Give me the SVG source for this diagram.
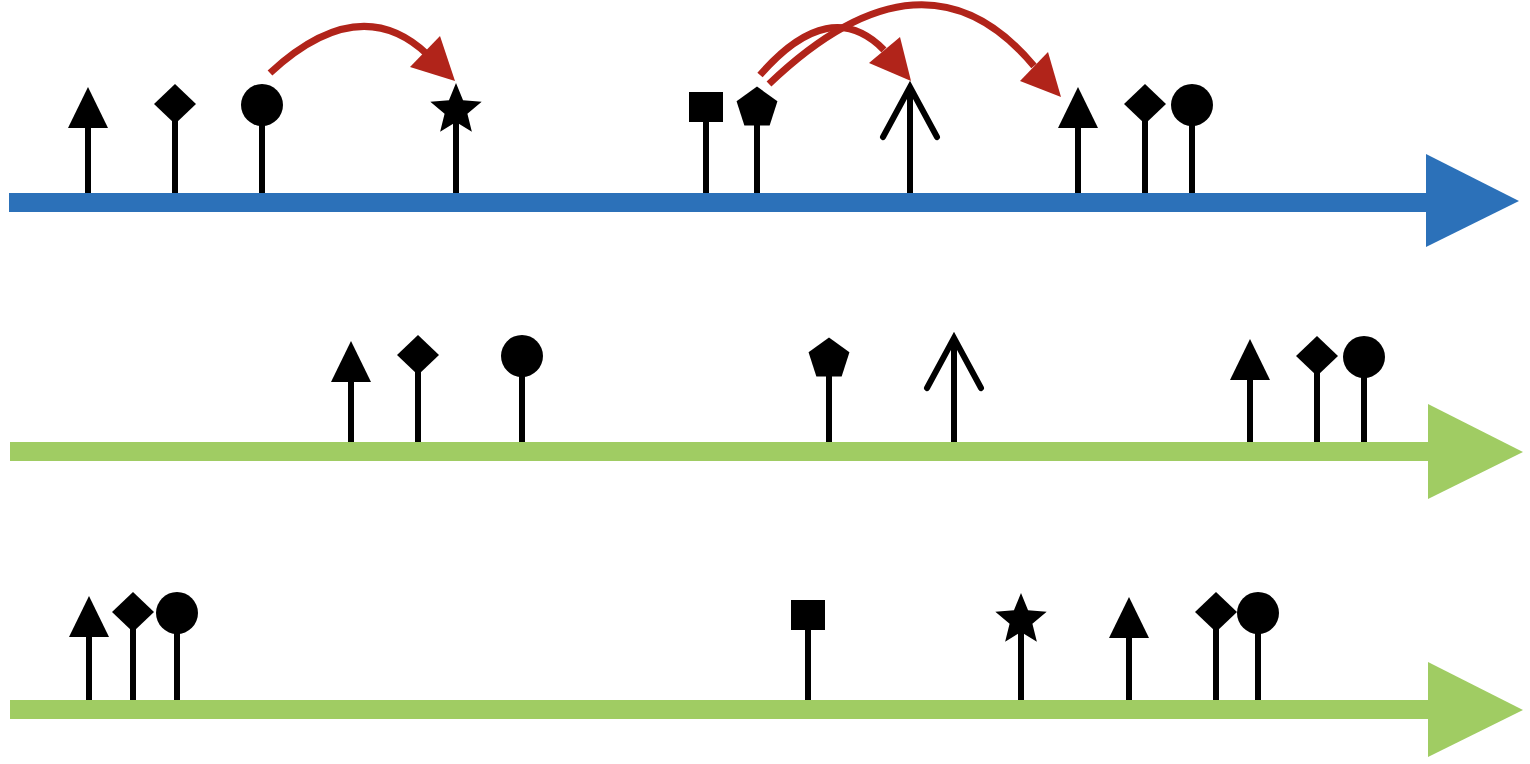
<svg xmlns="http://www.w3.org/2000/svg" xmlns:xlink="http://www.w3.org/1999/xlink" width="1530" height="764" viewBox="0 0 1530 764">
<style>
.stem{stroke:#000;stroke-width:6;fill:none}
.open{stroke:#000;stroke-width:6;fill:none;stroke-linecap:round;stroke-linejoin:miter}
.mk{fill:#000}
.blue{fill:#2C71B9}
.green{fill:#A0CC63}
.conn{stroke:#B1241A;stroke-width:7;fill:none}
.head{fill:#B1241A}
</style>
<defs>
<polygon id="tri" class="mk" points="0,0 -20,41 20,41"/>
<polygon id="dia" class="mk" points="0,-20 21,0 0,20 -21,0"/>
<circle id="dot" class="mk" r="21"/>
<rect id="sq" class="mk" x="-17" y="-15" width="34" height="30"/>
<polygon id="star" class="mk" points="0,-27 7.05,-9.7 25.68,-8.34 11.41,3.71 15.87,21.84 0,12 -15.87,21.84 -11.41,3.71 -25.68,-8.34 -7.05,-9.7"/>
<polygon id="pent" class="mk" points="0,-21.5 20.45,-6.64 12.64,17.39 -12.64,17.39 -20.45,-6.64"/>
<path id="open" class="open" d="M-27,50 L0,0 L27,50"/>
</defs>
<rect width="1530" height="764" fill="#fff"/>
<g id="axes">
<g id="axis1"><rect class="blue" x="9" y="193" width="1419" height="19"/><polygon class="blue" points="1426,154 1519,201 1426,247"/></g>
<g id="axis2"><rect class="green" x="10" y="442" width="1420" height="19"/><polygon class="green" points="1428,404 1523,452 1428,499"/></g>
<g id="axis3"><rect class="green" x="10" y="700" width="1420" height="19"/><polygon class="green" points="1428,662 1523,710 1428,757"/></g>
</g>
<g id="row1">
<g id="r1-tri"><line class="stem" x1="88" y1="120" x2="88" y2="193"/><use href="#tri" x="88" y="87"/></g>
<g id="r1-dia"><line class="stem" x1="175" y1="104" x2="175" y2="193"/><use href="#dia" x="175" y="104"/></g>
<g id="r1-dot"><line class="stem" x1="262" y1="105" x2="262" y2="193"/><use href="#dot" x="262" y="105"/></g>
<g id="r1-star"><line class="stem" x1="456" y1="110" x2="456" y2="193"/><use href="#star" x="456" y="110"/></g>
<g id="r1-sq"><line class="stem" x1="706" y1="107" x2="706" y2="193"/><use href="#sq" x="706" y="107"/></g>
<g id="r1-pent"><line class="stem" x1="757" y1="108" x2="757" y2="193"/><use href="#pent" x="757" y="108"/></g>
<g id="r1-open"><line class="stem" x1="910" y1="88" x2="910" y2="193"/><use href="#open" x="910" y="87"/></g>
<g id="r1-tri2"><line class="stem" x1="1078" y1="120" x2="1078" y2="193"/><use href="#tri" x="1078" y="87"/></g>
<g id="r1-dia2"><line class="stem" x1="1145" y1="104" x2="1145" y2="193"/><use href="#dia" x="1145" y="104"/></g>
<g id="r1-dot2"><line class="stem" x1="1192" y1="105" x2="1192" y2="193"/><use href="#dot" x="1192" y="105"/></g>
</g>
<g id="row2">
<g id="r2-tri"><line class="stem" x1="351" y1="375" x2="351" y2="442"/><use href="#tri" x="351" y="341"/></g>
<g id="r2-dia"><line class="stem" x1="418" y1="355" x2="418" y2="442"/><use href="#dia" x="418" y="355"/></g>
<g id="r2-dot"><line class="stem" x1="522" y1="356" x2="522" y2="442"/><use href="#dot" x="522" y="356"/></g>
<g id="r2-pent"><line class="stem" x1="829" y1="359" x2="829" y2="442"/><use href="#pent" x="829" y="359"/></g>
<g id="r2-open"><line class="stem" x1="954" y1="339" x2="954" y2="442"/><use href="#open" x="954" y="338"/></g>
<g id="r2-tri2"><line class="stem" x1="1250" y1="372" x2="1250" y2="442"/><use href="#tri" x="1250" y="339"/></g>
<g id="r2-dia2"><line class="stem" x1="1317" y1="356" x2="1317" y2="442"/><use href="#dia" x="1317" y="356"/></g>
<g id="r2-dot2"><line class="stem" x1="1364" y1="357" x2="1364" y2="442"/><use href="#dot" x="1364" y="357"/></g>
</g>
<g id="row3">
<g id="r3-tri"><line class="stem" x1="89" y1="630" x2="89" y2="700"/><use href="#tri" x="89" y="596"/></g>
<g id="r3-dia"><line class="stem" x1="133" y1="612" x2="133" y2="700"/><use href="#dia" x="133" y="612"/></g>
<g id="r3-dot"><line class="stem" x1="177" y1="613" x2="177" y2="700"/><use href="#dot" x="177" y="613"/></g>
<g id="r3-sq"><line class="stem" x1="808" y1="615" x2="808" y2="700"/><use href="#sq" x="808" y="615"/></g>
<g id="r3-star"><line class="stem" x1="1021" y1="620" x2="1021" y2="700"/><use href="#star" x="1021" y="620"/></g>
<g id="r3-tri2"><line class="stem" x1="1129" y1="630" x2="1129" y2="700"/><use href="#tri" x="1129" y="597"/></g>
<g id="r3-dia2"><line class="stem" x1="1216" y1="612" x2="1216" y2="700"/><use href="#dia" x="1216" y="612"/></g>
<g id="r3-dot2"><line class="stem" x1="1258" y1="613" x2="1258" y2="700"/><use href="#dot" x="1258" y="613"/></g>
</g>
<g id="connectors">
<path class="conn" d="M270,73 Q360,-10 428,55"/>
<polygon class="head" points="455,81 410,67 440,36"/>
<path class="conn" d="M760,75 Q830,-5 884,50"/>
<polygon class="head" points="911,81 869,63 900,37"/>
<path class="conn" d="M769,84 Q925,-65 1034,66"/>
<polygon class="head" points="1061,97 1020,81 1048,52"/>
</g>
</svg>
